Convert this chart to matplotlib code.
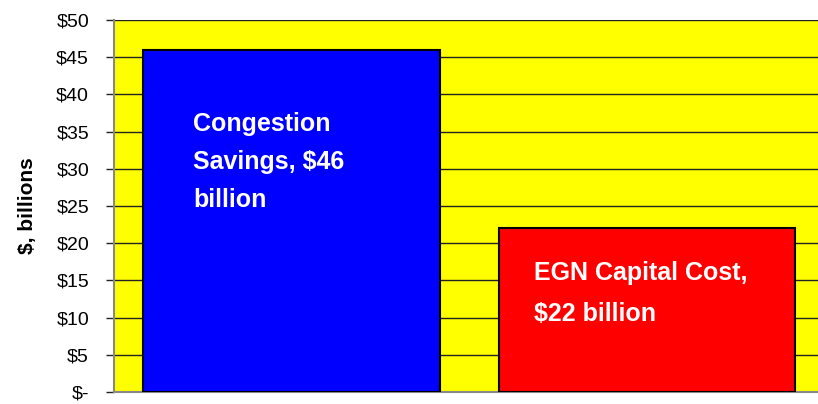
import matplotlib
matplotlib.use("Agg")
import matplotlib.pyplot as plt

# data
categories = ["Congestion Savings", "EGN Capital Cost"]
values = [46, 22]
bar_colors = ["#0000FF", "#FF0000"]
bar_texts = ["Congestion\nSavings, $46\nbillion", "EGN Capital Cost,\n$22 billion"]
y_ticks = [0, 5, 10, 15, 20, 25, 30, 35, 40, 45, 50]
y_tick_labels = ["$-", "$5", "$10", "$15", "$20", "$25", "$30", "$35", "$40", "$45", "$50"]

fig = plt.figure(figsize=(8.18, 4.04), dpi=100)
ax = fig.add_axes([0.1394, 0.0297, 0.8606, 0.9208])
ax.set_facecolor("#FFFF00")

x = list(range(len(categories)))
ax.bar(x, values, width=0.833, color=bar_colors, edgecolor="black", linewidth=1.5, zorder=3)

ax.set_xlim(-0.498, 1.48)
ax.set_ylim(0, 50)
ax.set_yticks(y_ticks)
ax.set_yticklabels(y_tick_labels, fontsize=14, family="Liberation Sans")
ax.set_xticks([])
ax.grid(True, axis="y", color="#222222", linewidth=1, zorder=1)
ax.tick_params(axis="y", direction="out", length=6, width=1, color="#222222", pad=12)

for side in ["top", "right"]:
    ax.spines[side].set_visible(False)
ax.spines["left"].set_color("#888888")
ax.spines["bottom"].set_color("#888888")
ax.spines["left"].set_linewidth(1.5)
ax.spines["bottom"].set_linewidth(1.5)

ax.set_ylabel("$, billions", fontsize=15, fontweight="bold", family="Liberation Sans", labelpad=14)

# labels inside bars
text_pos = [(-0.276, 37.7), (0.683, 17.6)]
spacing = [1.75, 1.9]
for (tx, ty), label, ls in zip(text_pos, bar_texts, spacing):
    ax.text(tx, ty, label, color="white", fontsize=18, fontweight="bold",
            family="Liberation Sans", ha="left", va="top", linespacing=ls, zorder=4)

fig.savefig("out.png", dpi=100)
